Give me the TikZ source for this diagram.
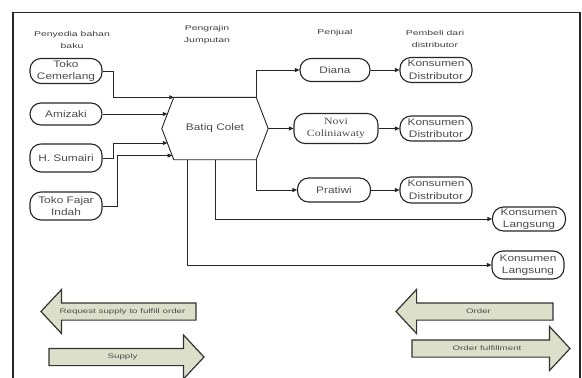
\documentclass[tikz,border=0pt]{standalone}
\usepackage{fontspec}
\setmainfont{Liberation Sans}
\newfontfamily\boxfont[FakeStretch=1.25]{Liberation Sans}
\newfontfamily\labfont[FakeStretch=1.5]{Liberation Sans}
\newfontfamily\serfont[FakeStretch=1.25]{Liberation Serif}
\usetikzlibrary{arrows.meta,calc,shapes.arrows}
\definecolor{sage}{RGB}{220,224,202}
\begin{document}
\begin{tikzpicture}[x=1pt,y=-1pt,
  box/.style={draw=black!85,line width=1.1pt,rounded corners=11pt,minimum width=72pt,minimum height=25pt,inner sep=0pt,align=center,font=\boxfont\fontsize{9.5}{12.5}\selectfont,text=black!70},
  head/.style={align=center,font=\labfont\fontsize{7}{12}\selectfont,text=black!75},
  link/.style={draw=black!85,line width=0.9pt},
  arr/.style={link,-{Triangle[length=4.5pt,width=4pt]}},
  big/.style={single arrow,draw=black!80,line width=1.2pt,fill=sage,inner xsep=0pt,inner ysep=5.5pt,text height=4pt,text depth=1pt,single arrow head extend=13.5pt,single arrow tip angle=94,font=\labfont\fontsize{6.5}{8}\selectfont,text=black!70}]
                \useasboundingbox (0,0) rectangle (582,378);
                \draw[line width=1.4pt,black!85] (13,378) -- (13,12.5) -- (580,12.5) -- (580,378);
                % column headings
                \node[head](h1) at (72,40) {Penyedia bahan\\baku};
                \node[head](h2) at (207,35) {Pengrajin\\Jumputan};
                \node[head](h3) at (335,33) {Penjual};
                \node[head](h4) at (435,39) {Pembeli dari\\distributor};
                % suppliers
                \node[box](tc) at (66,71) {Toko\\Cemerlang};
                \node[box,minimum height=22pt](am) at (66,114) {Amizaki};
                \node[box,minimum height=28pt](hs) at (66,158) {H. Sumairi};
                \node[box,minimum height=28pt](tf) at (66,206) {Toko Fajar\\Indah};
                % craftsman
                \node[minimum width=106pt,minimum height=62pt,inner sep=0pt,font=\boxfont\fontsize{9.5}{12.5}\selectfont,text=black!70](bc) at (215,128.5) {Batiq Colet};
                \draw[link] (bc.west) -- ([xshift=12pt]bc.north west) -- ([xshift=-12pt]bc.north east) -- (bc.east) -- ([xshift=-12pt]bc.south east) -- ([xshift=12pt]bc.south west) -- cycle;
                % sellers and buyers
                \node[box,minimum width=70pt,minimum height=23pt](diana) at (335,70) {Diana};
                \node[box,minimum width=84pt,minimum height=30pt,font=\serfont\fontsize{9.5}{12.5}\selectfont](novi) at (336,128.5) {Novi\\Coliniawaty};
                \node[box,minimum width=73pt,minimum height=24pt](pratiwi) at (334,190) {Pratiwi};
                \node[box](kd1) at (436,70) {Konsumen\\Distributor};
                \node[box](kd2) at (436,128.5) {Konsumen\\Distributor};
                \node[box,minimum height=26pt](kd3) at (436,190) {Konsumen\\Distributor};
                \node[box,minimum width=73pt,minimum height=24pt](kl1) at (529,219) {Konsumen\\Langsung};
                \node[box,minimum height=28pt](kl2) at (528,265) {Konsumen\\Langsung};
                % supply lines
                \draw[arr] (tc.east) -- ++(11,0) |- ([xshift=12pt]bc.north west);
                \draw[arr] (am.east) -- ($(bc.west)+(5.6,-14.5)$);
                \draw[arr] (hs.east) -- ++(11,0) |- ($(bc.west)+(5.6,14.5)$);
                \draw[arr] (tf.east) -- ++(15,0) |- ($(bc.west)+(10.4,27)$);
                \draw[arr] ([xshift=-12pt]bc.north east) |- (diana.west);
                \draw[arr] (bc.east) -- (novi.west);
                \draw[arr] ([xshift=-12pt]bc.south east) |- (pratiwi.west);
                \draw[arr] (bc.south) |- (kl1.west);
                \draw[arr] ([xshift=-28pt]bc.south) |- (kl2.west);
                \draw[arr] (diana) -- (kd1);
                \draw[arr] (novi) -- (kd2);
                \draw[arr] (pratiwi) -- (kd3);
                % legend arrows
                \node[big,minimum height=155pt,shape border rotate=180](req) at (122.5,311.5) {Request supply to fulfill order};
                \node[big,minimum height=155pt](sup) at (122.5,357) {Supply};
                \node[big,minimum height=157pt,shape border rotate=180](ord) at (478.5,311.5) {Order};
                \node[big,minimum height=158pt](ful) at (487,348.5) {Order fulfillment};
            \end{tikzpicture}
\end{document}
